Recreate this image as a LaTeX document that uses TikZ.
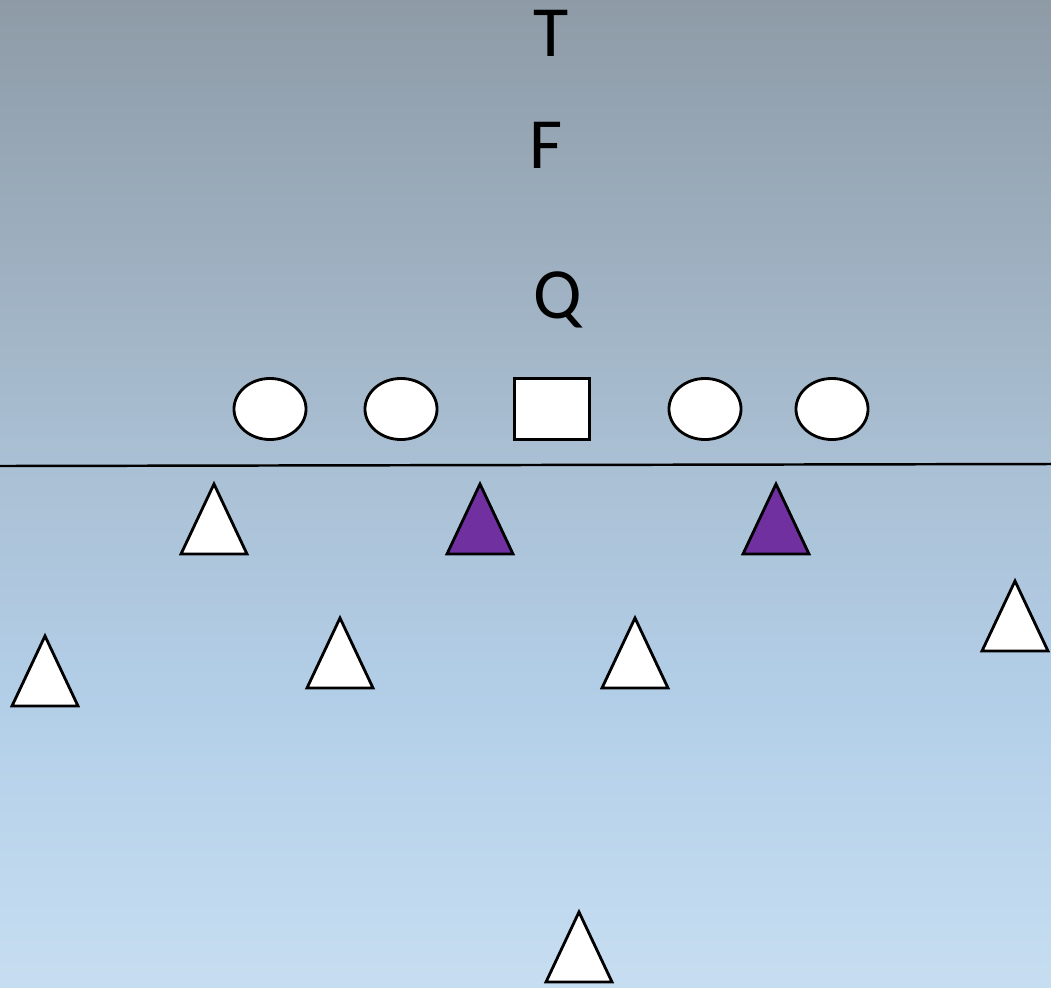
\documentclass[tikz,border=0pt]{standalone}
\usepackage{fontspec}
\setmainfont{Carlito}
\usetikzlibrary{shapes.geometric}

\pgfdeclareverticalshading{fieldshade}{100bp}{%
    rgb(0bp)=(0.78,0.87,0.945);
    rgb(25bp)=(0.78,0.87,0.945);
    rgb(39.5bp)=(0.70,0.81,0.91);
    rgb(51.4bp)=(0.667,0.753,0.831);
    rgb(75bp)=(0.557,0.608,0.655);
    rgb(100bp)=(0.557,0.608,0.655)}

\begin{document}
\begin{tikzpicture}[
        x=0.01cm, y=-0.01cm,
        letter/.style={font=\fontsize{20.5}{24}\selectfont, inner sep=0pt},
        lineman/.style={
            draw, ellipse, fill=white, line width=0.8pt,
            minimum width=0.72cm, minimum height=0.61cm, inner sep=0pt
        },
        center/.style={
            draw, rectangle, fill=white, line width=0.8pt,
            minimum width=0.75cm, minimum height=0.61cm, inner sep=0pt
        },
        defender/.style={draw, fill=white, line width=0.8pt, line join=miter},
        rusher/.style={defender, fill=rushpurple}
    ]
    \definecolor{rushpurple}{RGB}{112,48,160}

    % Background
    \shade[shading=fieldshade] (0,0) rectangle (1051,987);
    \useasboundingbox (0,0) rectangle (1051,987);

    % Backfield
    \node[letter] (t) at (551,33) {T};
    \node[letter] (f) at (546,145) {F};
    \node[letter] (q) at (558,300) {Q};

    % Offensive line
    \node[lineman] (lt) at (270,409) {};
    \node[lineman] (lg) at (401,409) {};
    \node[center]  (c)  at (552,409) {};
    \node[lineman] (rg) at (705,409) {};
    \node[lineman] (rt) at (832,409) {};

    % Line of scrimmage
    \coordinate (los-l) at (0,466);
    \coordinate (los-r) at (1051,464);
    \draw[line width=0.7pt] (los-l) -- (los-r);

    % Defense (x of apex, y of base)
    \foreach \x/\b in {214/554, 340/688, 635/688, 45/706, 1015/651, 579/982}
        \draw[defender] (\x-33,\b) -- (\x,\b-70) -- (\x+33,\b) -- cycle;
    \foreach \x/\b in {480/554, 776/554}
        \draw[rusher] (\x-33,\b) -- (\x,\b-70) -- (\x+33,\b) -- cycle;

\end{tikzpicture}
\end{document}
